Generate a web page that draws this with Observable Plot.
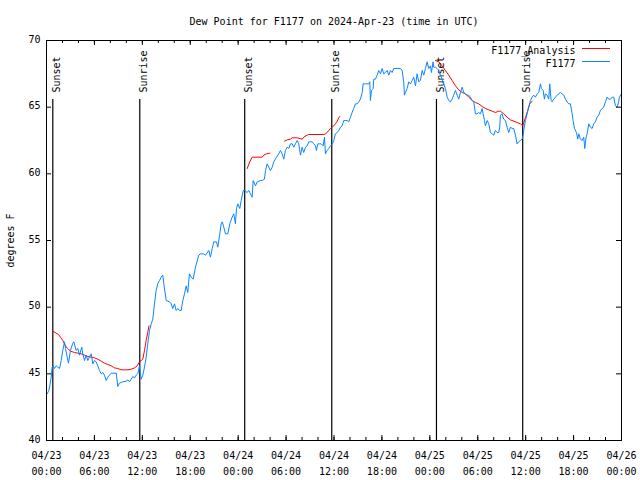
<!DOCTYPE html>
<html>
<head>
<meta charset="utf-8">
<script src="https://cdn.jsdelivr.net/npm/d3@7"></script>
<script src="https://cdn.jsdelivr.net/npm/@observablehq/plot@0.6"></script>
<style>
  html, body { margin: 0; padding: 0; background: #fff; }
  svg { display: block; }
</style>
</head>
<body>
<div id="chart"></div>
<script>
// ---- data (hours since 2024-04-23 00:00 UTC) ----
const titleText = "Dew Point for F1177 on 2024-Apr-23 (time in UTC)";
const yLabel = "degrees F";
const seriesNames = ["F1177_Analysis", "F1177"];
const seriesColors = ["#ff0000", "#0a84ff"];

const blueHours = [0.09,0.29,0.41,0.59,0.71,0.84,1.00,1.21,1.41,1.63,1.84,2.04,2.25,2.38,2.59,2.75,3.00,3.29,3.42,3.72,3.92,4.13,4.42,4.54,4.76,4.97,5.17,5.38,5.60,5.80,6.01,6.22,6.42,6.64,6.85,7.05,7.26,7.47,7.67,7.89,8.10,8.39,8.73,8.93,9.14,9.55,9.98,10.18,10.39,10.60,10.80,11.02,11.23,11.43,11.64,11.86,12.06,12.27,12.48,12.68,12.90,13.11,13.31,13.52,13.73,13.93,14.15,14.36,14.56,14.69,14.99,15.40,15.61,15.81,16.03,16.24,16.44,16.65,16.86,17.07,17.28,17.49,17.69,17.90,18.12,18.37,18.65,19.07,19.28,19.66,19.91,20.32,20.53,20.75,20.95,21.28,21.45,21.70,21.87,22.00,22.20,22.41,22.70,22.95,23.25,23.45,23.66,23.79,23.95,24.20,24.38,24.63,24.79,25.13,25.33,25.54,25.75,25.88,26.17,26.38,26.79,27.01,27.29,27.42,27.63,27.83,28.04,28.26,28.46,28.80,29.08,29.29,29.51,29.71,29.92,30.14,30.34,30.55,30.76,30.96,31.17,31.39,31.59,31.80,32.01,32.21,32.43,32.64,32.84,33.05,33.27,33.47,33.68,33.80,33.97,34.22,34.39,34.64,34.81,34.93,35.14,35.34,35.56,35.77,35.97,36.18,36.40,36.60,36.81,37.02,37.22,37.43,37.65,37.85,38.06,38.27,38.47,38.69,38.90,39.10,39.31,39.53,39.65,39.94,40.15,40.35,40.48,40.56,40.69,40.90,40.98,41.19,41.40,41.60,41.82,42.03,42.23,42.44,42.66,42.86,43.07,43.28,43.48,43.91,44.32,44.53,44.73,44.82,44.95,45.16,45.36,45.57,45.79,45.99,46.20,46.41,46.61,46.82,47.04,47.24,47.45,47.66,47.86,48.08,48.20,48.41,48.49,48.70,48.91,49.12,49.33,49.54,49.74,49.95,50.17,50.37,50.58,50.79,50.99,51.21,51.42,51.62,51.83,52.05,52.25,52.46,52.67,52.87,53.08,53.30,53.50,53.71,53.92,54.12,54.34,54.55,54.67,54.84,54.96,55.18,55.38,55.59,55.80,56.00,56.21,56.43,56.63,56.75,56.84,57.05,57.25,57.47,57.68,57.88,58.09,58.31,58.51,58.72,58.93,59.13,59.34,59.56,59.68,59.76,59.97,60.18,60.38,60.60,60.81,61.01,61.22,61.44,61.64,61.85,61.97,62.19,62.35,62.47,62.69,62.89,63.01,63.19,63.31,63.51,63.73,63.94,64.14,64.35,64.57,64.77,64.98,65.19,65.39,65.60,65.82,65.94,66.11,66.36,66.52,66.65,66.86,67.07,67.27,67.40,67.57,67.70,67.90,68.11,68.32,68.52,68.73,68.95,69.15,69.36,69.57,69.77,69.99,70.20,70.40,70.61,70.83,71.03,71.24,71.45,71.65,71.74,71.99];
const blueValues = [43.5,43.75,44.1,44.75,45.5,45.6,45.4,45.6,45.5,45.4,46.0,46.75,47.4,46.9,46.25,45.8,46.75,47.3,47.4,46.75,46.9,46.4,47.0,46.5,46.0,46.4,46.0,46.25,46.5,45.75,46.0,45.9,45.6,45.25,45.0,45.1,44.9,44.5,44.75,44.9,45.05,45.05,45.05,44.05,44.3,44.4,44.45,44.55,44.4,44.6,44.8,44.7,44.9,45.0,45.6,44.6,44.9,45.5,46.25,47.25,48.25,48.75,49.1,50.25,51.25,51.75,52.0,52.25,52.4,51.75,50.5,50.4,50.25,49.9,50.25,49.75,49.9,49.75,49.75,50.5,51.0,51.6,51.1,52.5,52.25,52.1,53.0,53.9,54.0,54.0,53.9,54.25,53.75,54.4,54.9,54.9,54.5,55.5,56.25,56.4,56.0,55.5,55.5,56.25,56.75,57.0,56.25,57.4,57.75,57.4,58.0,58.75,58.75,58.6,58.75,58.5,58.25,59.5,59.1,59.4,59.5,59.5,59.6,60.25,60.75,60.5,60.25,60.5,60.9,61.25,61.5,61.75,61.5,61.1,61.75,62.0,61.9,62.25,62.25,62.0,62.25,62.5,62.25,61.4,62.0,61.6,62.0,62.1,62.4,62.4,62.4,62.25,62.1,61.75,62.25,62.25,62.25,62.1,62.75,61.5,61.75,61.9,62.1,62.2,62.5,63.0,63.1,63.25,63.5,63.6,64.0,64.0,64.0,63.9,64.25,64.6,64.9,65.25,65.25,65.4,65.6,66.1,66.75,66.75,66.75,66.75,66.9,65.5,66.25,66.4,67.1,67.1,67.4,67.75,67.5,67.9,67.5,67.6,67.75,67.4,67.75,67.6,67.9,67.9,67.9,67.75,66.9,65.9,66.1,66.4,66.9,66.75,67.0,67.25,66.6,67.5,66.9,67.0,67.75,67.4,67.9,68.4,67.9,68.1,67.6,68.4,68.0,68.0,67.9,67.75,67.4,67.1,66.75,66.4,65.75,65.5,65.4,65.6,65.9,66.25,65.9,65.6,66.1,66.5,66.1,66.0,65.9,65.9,65.75,65.5,65.4,64.5,64.5,64.6,64.5,64.9,64.5,64.0,63.6,64.0,63.75,63.1,63.0,62.9,63.25,63.1,63.1,63.5,64.4,64.5,64.1,64.0,63.5,63.1,63.5,63.4,63.4,62.9,62.25,62.4,62.5,62.6,62.9,63.25,64.0,64.5,65.0,65.5,65.75,65.9,65.75,66.0,66.1,66.75,66.4,66.25,65.6,66.0,65.9,65.6,66.75,65.5,65.4,65.6,65.75,65.9,66.0,66.1,66.0,65.9,65.6,65.4,65.25,65.25,64.5,64.0,63.4,63.1,62.6,63.0,62.6,62.5,62.75,61.9,62.75,63.0,63.75,63.5,63.4,63.75,63.9,64.25,64.4,64.75,64.9,65.0,65.4,65.75,65.6,65.6,65.75,65.75,65.1,65.0,65.4,65.75,66.0];

// analysis series, null = gap between segments
const redHours = [0.79,1.21,1.50,1.75,2.04,2.25,2.47,2.67,3.00,3.51,3.92,4.34,4.76,5.17,5.60,6.01,6.42,6.85,7.26,7.67,8.10,8.51,8.93,9.35,9.77,10.18,10.60,11.02,11.36,11.64,11.86,12.06,12.27,12.48,12.68,12.83,
  null,
  25.13,25.45,25.75,27.01,27.21,27.54,27.96,
  null,
  29.80,30.14,30.55,30.76,31.39,32.01,32.21,32.64,32.84,34.72,34.93,35.14,35.34,35.56,35.77,35.97,36.18,36.40,36.60,36.72,
  null,
  48.70,49.12,49.54,49.95,50.37,50.79,51.21,51.62,52.05,52.46,52.87,53.30,53.71,54.12,54.55,54.96,55.38,55.80,56.21,56.63,56.84,57.25,57.68,58.09,58.51,58.93,59.34,59.63,59.97,60.26,60.51,60.81];
const redValues = [48.2,48.05,47.95,47.75,47.5,47.25,47.0,46.9,46.7,46.6,46.55,46.5,46.4,46.3,46.25,46.2,46.1,45.95,45.8,45.7,45.6,45.45,45.4,45.3,45.3,45.3,45.35,45.45,45.6,45.9,46.0,46.1,46.75,47.5,48.1,48.6,
  null,
  60.4,60.9,61.25,61.25,61.4,61.5,61.55,
  null,
  62.45,62.55,62.6,62.7,62.7,62.6,62.75,62.9,62.95,62.95,63.0,63.1,63.25,63.4,63.5,63.6,63.75,63.95,64.2,64.3,
  null,
  68.5,68.4,68.1,67.75,67.4,67.0,66.6,66.3,66.1,66.0,65.75,65.5,65.35,65.25,65.05,64.9,64.8,64.7,64.6,64.7,64.7,64.5,64.25,64.05,63.95,63.85,63.75,63.6,64.2,64.75,65.25,65.45];

const eventHours = [0.79, 11.68, 24.82, 35.72, 48.83, 59.63];
const eventLabels = ["Sunset", "Sunrise", "Sunset", "Sunrise", "Sunset", "Sunrise"];

const yTicks = [40, 45, 50, 55, 60, 65, 70];
const xMajorHours = d3.range(0, 73, 6);
const xMinorHours = d3.range(0, 73, 2);

// ---- build ----
const START = Date.UTC(2024, 3, 23);
const toDate = h => h == null ? null : new Date(START + h * 3600000);
const blue = blueHours.map((h, i) => ({t: toDate(h), v: blueValues[i]}));
const red = redHours.map((h, i) => ({t: toDate(h), v: redValues[i]}));
const events = eventHours.map((h, i) => ({t: toDate(h), label: eventLabels[i]}));
const xMajor = xMajorHours.map(toDate);
const xMinor = xMinorHours.map(toDate);
const pad = n => String(n).padStart(2, "0");
const fmt = d => `${pad(d.getUTCMonth() + 1)}/${pad(d.getUTCDate())}\n${pad(d.getUTCHours())}:${pad(d.getUTCMinutes())}`;

const W = 640, H = 480, mL = 46, mR = 19, mT = 40, mB = 40;
const pw = W - mL - mR, ph = H - mT - mB;

const plot = Plot.plot({
  width: W, height: H,
  marginLeft: mL, marginRight: mR, marginTop: mT, marginBottom: mB,
  style: {fontFamily: "DejaVu Sans Mono", fontSize: "10px", background: "#fff", color: "#000"},
  x: {type: "utc", domain: [toDate(0), toDate(72)], axis: null},
  y: {domain: [40, 70], axis: null},
  marks: [
    // event lines and labels
    Plot.ruleX(events, {x: "t", stroke: "#000", strokeWidth: 1.2, insetTop: 59}),
    Plot.text(events, {x: "t", text: "label", frameAnchor: "top", dy: 52, rotate: -90, textAnchor: "start", fill: "#000"}),
    // series
    Plot.line(red, {x: "t", y: "v", stroke: seriesColors[0], strokeWidth: 1}),
    Plot.line(blue, {x: "t", y: "v", stroke: seriesColors[1], strokeWidth: 1}),
    // frame
    Plot.frame({stroke: "#000", strokeWidth: 1}),
    // ticks x (inward, mirrored)
    Plot.ruleX(xMinor, {x: d => d, insetTop: ph - 3, stroke: "#000"}),
    Plot.ruleX(xMinor, {x: d => d, insetBottom: ph - 3, stroke: "#000"}),
    Plot.ruleX(xMajor, {x: d => d, insetTop: ph - 5, stroke: "#000"}),
    Plot.ruleX(xMajor, {x: d => d, insetBottom: ph - 5, stroke: "#000"}),
    // ticks y
    Plot.ruleY(yTicks, {y: d => d, insetRight: pw - 5, stroke: "#000"}),
    Plot.ruleY(yTicks, {y: d => d, insetLeft: pw - 5, stroke: "#000"}),
    // tick labels
    Plot.text(xMajor, {x: d => d, text: fmt, frameAnchor: "bottom", lineAnchor: "top", dy: 7, lineHeight: 1.6, fill: "#000"}),
    Plot.text(yTicks, {y: d => d, text: d => String(d), frameAnchor: "left", textAnchor: "end", dx: -6, dy: -1, fill: "#000"}),
    // axis label and title
    Plot.text([yLabel], {text: d => d, frameAnchor: "left", textAnchor: "middle", rotate: -90, dx: -36, fill: "#000"}),
    Plot.text([titleText], {text: d => d, frameAnchor: "top", dy: -23, fill: "#000"}),
    // legend text
    Plot.text([seriesNames[0]], {text: d => d, frameAnchor: "top-right", textAnchor: "end", dx: -46, dy: 6, fill: "#000"}),
    Plot.text([seriesNames[1]], {text: d => d, frameAnchor: "top-right", textAnchor: "end", dx: -46, dy: 19, fill: "#000"})
  ]
});

// legend line samples
const svg = d3.select(plot);
svg.append("line").attr("x1", W - mR - 39).attr("x2", W - mR - 11).attr("y1", mT + 8.5).attr("y2", mT + 8.5)
  .attr("stroke", seriesColors[0]).attr("stroke-width", 1);
svg.append("line").attr("x1", W - mR - 39).attr("x2", W - mR - 11).attr("y1", mT + 21.5).attr("y2", mT + 21.5)
  .attr("stroke", seriesColors[1]).attr("stroke-width", 1);

document.getElementById("chart").appendChild(plot);
</script>
</body>
</html>
